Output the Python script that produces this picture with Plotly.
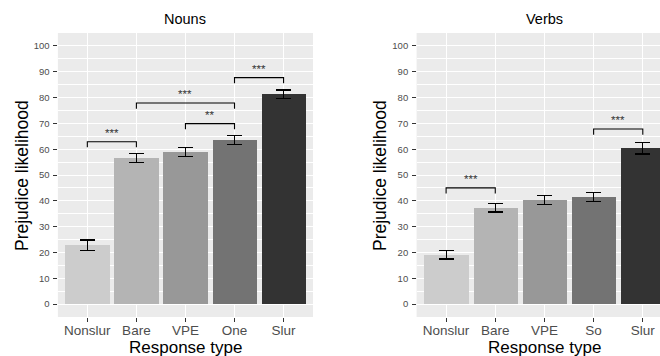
import plotly.graph_objects as go

categories_nouns = ["Nonslur", "Bare", "VPE", "One", "Slur"]
categories_verbs = ["Nonslur", "Bare", "VPE", "So", "Slur"]
nouns_mean = [22.8, 56.5, 58.9, 63.5, 81.2]
nouns_err = [2.0, 1.8, 1.8, 1.75, 1.7]
verbs_mean = [19.1, 37.4, 40.4, 41.4, 60.3]
verbs_err = [1.65, 1.7, 1.8, 1.8, 2.2]
bar_colors = ["#CCCCCC", "#B4B4B4", "#989898", "#737373", "#333333"]
# significance comparisons: (from index, to index, bracket height, label)
nouns_sig = [(1, 2, 62.9, "***"), (2, 4, 77.9, "***"), (3, 4, 69.9, "**"), (4, 5, 87.7, "***")]
verbs_sig = [(1, 2, 45.0, "***"), (4, 5, 67.8, "***")]
y_ticks = [0, 10, 20, 30, 40, 50, 60, 70, 80, 90, 100]

FONT = "Liberation Sans, Arial, sans-serif"
W, H = 660, 356

fig = go.Figure()

def add_panel(cats, means, errs, sig, xa, ya):
    xs = list(range(1, len(cats) + 1))
    fig.add_trace(go.Bar(
        x=xs, y=means, width=0.9, marker=dict(color=bar_colors, line=dict(width=0)),
        error_y=dict(type="data", array=errs, visible=True, color="black", thickness=1.2, width=7.5),
        xaxis=xa, yaxis=ya, showlegend=False))
    for a, b, h, lab in sig:
        fig.add_trace(go.Scatter(
            x=[a, a, b, b], y=[h - 2.2, h, h, h - 2.2], mode="lines",
            line=dict(color="black", width=1.1), xaxis=xa, yaxis=ya,
            showlegend=False, hoverinfo="skip"))
        fig.add_annotation(x=(a + b) / 2, y=h + 3.4, xref=xa, yref=ya, text=lab,
                           showarrow=False, yanchor="middle",
                           font=dict(family=FONT, size=11.5, color="#333333"))

add_panel(categories_nouns, nouns_mean, nouns_err, nouns_sig, "x", "y")
add_panel(categories_verbs, verbs_mean, verbs_err, verbs_sig, "x2", "y2")

def px_x(p):
    return p / W

def px_y(p):
    return (H - p) / H

ydom = [px_y(317), px_y(33)]
xcommon = dict(showgrid=True, gridcolor="white", gridwidth=1.1, zeroline=False,
               ticks="outside", ticklen=3.5, tickcolor="#333333", tickwidth=1,
               tickfont=dict(family=FONT, size=13.5, color="#4D4D4D"), tickvals=[1, 2, 3, 4, 5],
               fixedrange=True, showline=False, ticklabelstandoff=-3)
ycommon = dict(range=[-5, 105], showgrid=True, gridcolor="white", gridwidth=1.1, zeroline=False,
               tickvals=y_ticks, ticks="outside", ticklen=3.5, tickcolor="#333333", tickwidth=1,
               tickfont=dict(family=FONT, size=9.5, color="#4D4D4D"),
               minor=dict(dtick=5, tick0=0, showgrid=True, gridcolor="white", gridwidth=0.5, ticks=""),
               domain=ydom, showline=False, ticklabelstandoff=2, fixedrange=True)

fig.update_layout(
    width=W, height=H, margin=dict(l=0, r=0, t=0, b=0),
    paper_bgcolor="white", plot_bgcolor="#EBEBEB",
    xaxis=dict(xcommon, domain=[px_x(57.9), px_x(313)], range=[0.4, 5.6],
               ticktext=categories_nouns, anchor="y"),
    yaxis=dict(ycommon, anchor="x"),
    xaxis2=dict(xcommon, domain=[px_x(416.6), 1], range=[0.4, 5.35],
                ticktext=categories_verbs, anchor="y2"),
    yaxis2=dict(ycommon, anchor="x2"),
    bargap=0,
)

for xa, title in (("x", "Nouns"), ("x2", "Verbs")):
    fig.add_annotation(x=3, y=px_y(19), xref=xa, yref="paper", text=title, showarrow=False,
                       yanchor="middle", font=dict(family=FONT, size=14.5, color="black"))
    fig.add_annotation(x=3, y=px_y(347), xref=xa, yref="paper", text="Response type",
                       showarrow=False, yanchor="middle",
                       font=dict(family=FONT, size=17, color="black"))

for xp in (22, 380):
    fig.add_annotation(x=px_x(xp), y=px_y(176), xref="paper", yref="paper",
                       text="Prejudice likelihood", textangle=-90, showarrow=False,
                       xanchor="center", yanchor="middle",
                       font=dict(family=FONT, size=17.5, color="black"))

fig.write_html("out.html", config={"displayModeBar": False},
               post_script="document.body.style.margin='0';document.body.style.overflow='hidden';")
